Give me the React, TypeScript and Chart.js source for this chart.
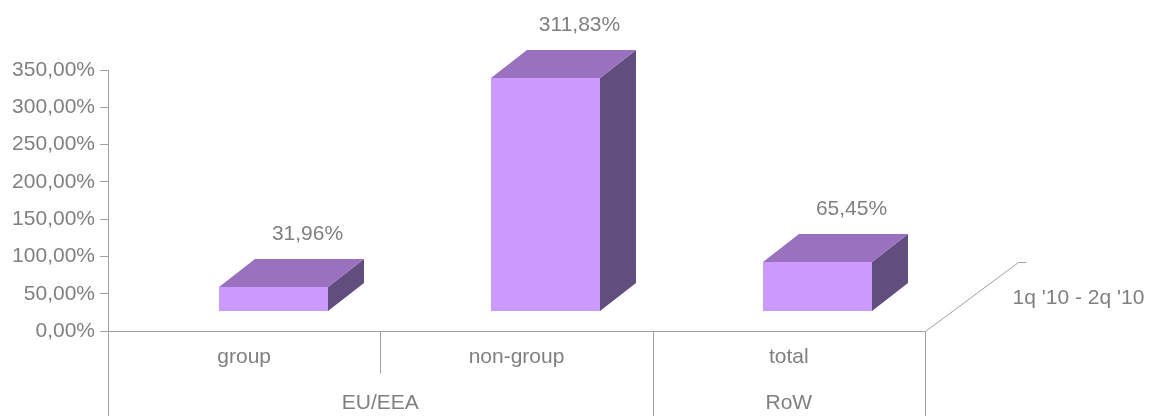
import React, { useEffect, useRef } from "react";
import { Chart, registerables } from "chart.js";

Chart.register(...registerables);

const categories = ["group", "non-group", "total"];
const groupLabels = ["EU/EEA", "RoW"];
const groupSpans = [2, 1];
const values = [31.96, 311.83, 65.45];
const seriesName = "1q '10 - 2q '10";
const yMin = 0;
const yMax = 350;
const yStep = 50;

const FONT = "'Liberation Sans', Arial, sans-serif";
const TEXT = "#808080";
const LINE = "#A0A0A0";
const FRONT = "#CC99FF";
const TOP = "#9A71BE";
const SIDE = "#624D7F";

const fmt = (v: number) => v.toFixed(2).replace(".", ",") + "%";

const threeD = {
  id: "threeD",
  afterDatasetsDraw(chart: any) {
    const ctx = chart.ctx as CanvasRenderingContext2D;
    const area = chart.chartArea;
    const xs = chart.scales.x;
    const meta = chart.getDatasetMeta(0);
    // projection constants
    const ox = 29, oy = -20; // bar plane offset from front axis plane
    const dx = 36, dy = -28; // bar depth
    const fdx = 93, fdy = -69; // floor depth

    ctx.save();
    // bars
    meta.data.forEach((el: any, i: number) => {
      const p = el.getProps(["x", "y", "base", "width"], true);
      const l = Math.round(p.x - p.width / 2 + ox);
      const r = Math.round(p.x + p.width / 2 + ox);
      const t = Math.round(p.y + oy);
      const b = Math.round(p.base + oy);
      ctx.fillStyle = SIDE;
      ctx.beginPath();
      ctx.moveTo(r, t);
      ctx.lineTo(r + dx, t + dy);
      ctx.lineTo(r + dx, b + dy);
      ctx.lineTo(r, b);
      ctx.closePath();
      ctx.fill();
      ctx.fillStyle = TOP;
      ctx.beginPath();
      ctx.moveTo(l, t);
      ctx.lineTo(l + dx, t + dy);
      ctx.lineTo(r + dx, t + dy);
      ctx.lineTo(r, t);
      ctx.closePath();
      ctx.fill();
      ctx.fillStyle = FRONT;
      ctx.fillRect(l, t, r - l, b - t);

      ctx.fillStyle = TEXT;
      ctx.font = `21px ${FONT}`;
      ctx.textAlign = "center";
      ctx.textBaseline = "middle";
      ctx.fillText(fmt(values[i]), (l + r) / 2 + 34, t + dy - 25);
    });

    // axes lines
    ctx.strokeStyle = LINE;
    ctx.lineWidth = 1;
    const H = chart.height;
    const L = area.left + 0.5;
    const R = Math.round(area.right) + 0.5;
    const B = Math.round(area.bottom) + 0.5;
    ctx.beginPath();
    ctx.moveTo(L, area.bottom);
    ctx.lineTo(L, H);
    ctx.moveTo(area.left, B);
    ctx.lineTo(R, B);
    ctx.lineTo(R + fdx, B + fdy);
    ctx.lineTo(R + fdx + 8, B + fdy);
    ctx.moveTo(R, B);
    ctx.lineTo(R, H);
    ctx.stroke();

    const half = (xs.getPixelForValue(1) - xs.getPixelForValue(0)) / 2;
    // category-level labels and dividers
    ctx.fillStyle = TEXT;
    ctx.font = `21px ${FONT}`;
    ctx.textAlign = "center";
    ctx.textBaseline = "middle";
    categories.forEach((c, i) => {
      ctx.fillText(c, xs.getPixelForValue(i), B + 26);
    });
    let idx = 0;
    groupLabels.forEach((g, gi) => {
      const span = groupSpans[gi];
      const start = xs.getPixelForValue(idx) - half;
      const end = xs.getPixelForValue(idx + span - 1) + half;
      ctx.fillText(g, (start + end) / 2, B + 72);
      for (let k = 1; k < span; k++) {
        const x = Math.round(xs.getPixelForValue(idx + k) - half) + 0.5;
        ctx.beginPath();
        ctx.moveTo(x, B);
        ctx.lineTo(x, B + 42);
        ctx.stroke();
      }
      if (gi > 0) {
        const x = Math.round(start) + 0.5;
        ctx.beginPath();
        ctx.moveTo(x, B);
        ctx.lineTo(x, H);
        ctx.stroke();
      }
      idx += span;
    });

    // series label on depth axis
    ctx.textAlign = "center";
    ctx.fillText(seriesName, R + 153, B - 33);
    ctx.restore();
  },
};

export default function App() {
  const ref = useRef<HTMLCanvasElement | null>(null);
  useEffect(() => {
    if (!ref.current) return;
    Chart.defaults.font.family = FONT;
    const chart = new Chart(ref.current, {
      type: "bar",
      data: {
        labels: categories,
        datasets: [
          {
            label: seriesName,
            data: values,
            backgroundColor: "rgba(0,0,0,0)",
            borderWidth: 0,
            barPercentage: 0.4,
            categoryPercentage: 1,
          },
        ],
      },
      options: {
        animation: false,
        responsive: false,
        devicePixelRatio: 1,
        layout: { padding: { left: 0, right: 224, top: 70, bottom: 0 } },
        plugins: {
          legend: { display: false },
          tooltip: { enabled: false },
        },
        scales: {
          x: {
            ticks: { display: false },
            grid: { display: false },
            border: { display: false },
            afterFit: (s: any) => {
              s.height = 85;
            },
          },
          y: {
            min: yMin,
            max: yMax,
            ticks: {
              stepSize: yStep,
              padding: 5,
              color: TEXT,
              font: { size: 21, family: FONT },
              callback: (v: any) => fmt(Number(v)),
            },
            grid: {
              drawOnChartArea: false,
              drawTicks: true,
              tickLength: 8,
              color: LINE,
            },
            border: { display: true, color: LINE },
            afterFit: (s: any) => {
              s.width = 108;
            },
          },
        },
      },
      plugins: [threeD],
    });
    return () => chart.destroy();
  }, []);
  return (
    <div style={{ position: "absolute", left: 0, top: 0, width: 1149, height: 416 }}>
      <canvas ref={ref} width={1149} height={416} />
    </div>
  );
}
